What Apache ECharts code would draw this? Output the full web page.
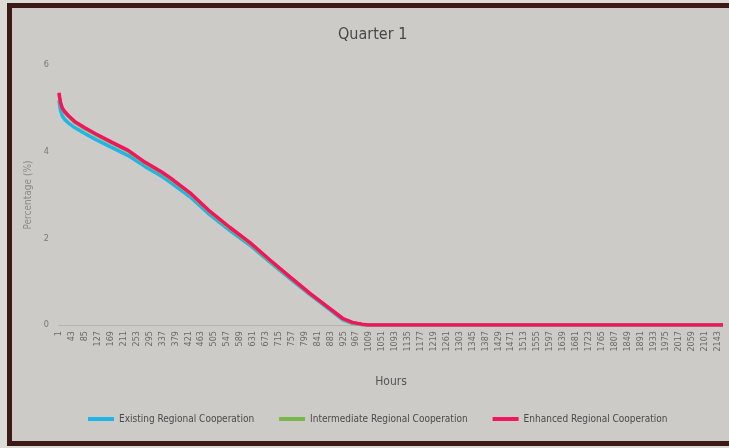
<!DOCTYPE html>
<html>
<head>
<meta charset="utf-8">
<script src="https://cdn.jsdelivr.net/npm/echarts@6/dist/echarts.min.js"></script>
<style>
  html, body { margin: 0; padding: 0; background: #dcdad6; }
  .frame {
    position: absolute; left: 7px; top: 3px; width: 740px; height: 433px;
    border: 5px solid #3d1915; border-right: 0;
    background: #cdcbc7;
  }
  #main { position: absolute; left: 0; top: 0; width: 729px; height: 448px; }
</style>
</head>
<body>
<div class="frame"></div>
<div id="main"></div>
<script>
// hours 1..2160 make up the category axis
var hourCount = 2160
var hours = []
for (var h = 1; h <= hourCount; h++) hours.push(String(h))

var sampleHours = [1, 3, 6, 12, 20, 32, 53, 85, 118, 172, 226, 280, 335, 362, 427, 492, 557, 622, 687, 752, 817, 882, 924, 955, 985, 1005, 2160]
var existing =     [5.18, 5.08, 4.95, 4.82, 4.74, 4.66, 4.55, 4.42, 4.29, 4.10, 3.91, 3.66, 3.43, 3.30, 2.96, 2.54, 2.18, 1.84, 1.45, 1.07, 0.70, 0.35, 0.12, 0.04, 0.01, 0, 0]
var intermediate = [5.34, 5.24, 5.11, 4.98, 4.90, 4.81, 4.67, 4.53, 4.40, 4.20, 4.01, 3.74, 3.51, 3.38, 3.03, 2.60, 2.23, 1.88, 1.48, 1.10, 0.72, 0.37, 0.14, 0.05, 0.01, 0, 0]
var enhanced =     [5.36, 5.26, 5.13, 5.00, 4.92, 4.83, 4.69, 4.55, 4.42, 4.22, 4.03, 3.76, 3.53, 3.40, 3.05, 2.62, 2.25, 1.90, 1.50, 1.11, 0.73, 0.38, 0.15, 0.06, 0.02, 0, 0]

var yTicks = [0, 2, 4, 6]

function pairs(vals) {
  var out = []
  for (var i = 0; i < sampleHours.length; i++) out.push([sampleHours[i] - 1, vals[i]])
  return out
}

var font = "'Liberation Sans Narrow', 'DejaVu Sans Condensed', 'Liberation Sans', sans-serif"

var chart = echarts.init(document.getElementById('main'))
chart.setOption({
  animation: false,
  backgroundColor: 'transparent',
  title: {
    text: 'Quarter 1',
    left: 333,
    top: 22,
    textStyle: { fontFamily: font, fontSize: 16, fontWeight: 'normal', color: '#474747' }
  },
  legend: {
    bottom: 19,
    left: 83,
    itemWidth: 26,
    itemHeight: 4,
    itemGap: 25,
    icon: 'rect',
    textStyle: { fontFamily: font, fontSize: 10, color: '#4a4a4a' },
    data: ['Existing Regional Cooperation', 'Intermediate Regional Cooperation', 'Enhanced Regional Cooperation']
  },
  grid: { left: 59, right: 6, top: 65, bottom: 123, containLabel: false },
  xAxis: {
    type: 'category',
    data: hours,
    boundaryGap: false,
    name: 'Hours',
    nameLocation: 'middle',
    nameGap: 51,
    nameTextStyle: { fontFamily: font, fontSize: 12, color: '#555' },
    axisLine: { show: true, lineStyle: { color: '#b5b3af' } },
    axisTick: { show: false },
    axisLabel: { interval: 41, rotate: 90, fontFamily: font, fontSize: 9, color: '#6a6a6a', margin: 6 },
    splitLine: { show: false }
  },
  yAxis: {
    type: 'value',
    min: yTicks[0],
    max: yTicks[yTicks.length - 1],
    interval: 2,
    name: 'Percentage (%)',
    nameLocation: 'middle',
    nameGap: 13,
    nameTextStyle: { fontFamily: font, fontSize: 10, color: '#8a8a8a' },
    axisLine: { show: false },
    axisTick: { show: false },
    axisLabel: { fontFamily: font, fontSize: 9, color: '#777', margin: 10 },
    splitLine: { show: false }
  },
  series: [
    {
      name: 'Existing Regional Cooperation',
      type: 'line',
      data: pairs(existing),
      showSymbol: false,
      lineStyle: { width: 3.5, color: '#22b4e6' },
      itemStyle: { color: '#22b4e6' }
    },
    {
      name: 'Intermediate Regional Cooperation',
      type: 'line',
      data: pairs(intermediate),
      showSymbol: false,
      lineStyle: { width: 3.5, color: '#78b84a' },
      itemStyle: { color: '#78b84a' }
    },
    {
      name: 'Enhanced Regional Cooperation',
      type: 'line',
      data: pairs(enhanced),
      showSymbol: false,
      lineStyle: { width: 3.5, color: '#f2145c' },
      itemStyle: { color: '#f2145c' }
    }
  ]
})
</script>
</body>
</html>
